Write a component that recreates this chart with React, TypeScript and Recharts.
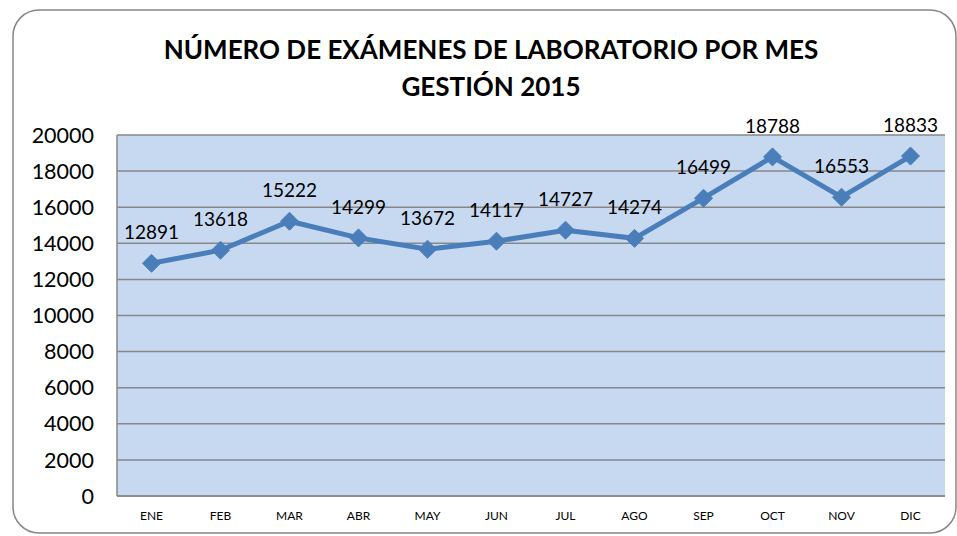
import { LineChart, Line, XAxis, YAxis, CartesianGrid, LabelList } from "recharts"

const months = ["ENE", "FEB", "MAR", "ABR", "MAY", "JUN", "JUL", "AGO", "SEP", "OCT", "NOV", "DIC"]
const examenes = [12891, 13618, 15222, 14299, 13672, 14117, 14727, 14274, 16499, 18788, 16553, 18833]
const yTicks = [0, 2000, 4000, 6000, 8000, 10000, 12000, 14000, 16000, 18000, 20000]

const data = months.map((m, i) => ({ mes: m, valor: examenes[i] }))

const font = "Lato, Carlito, Calibri, sans-serif"

// diamond marker like the Excel one
const Diamond = (props: any) => {
  const { cx, cy } = props
  if (cx == null || cy == null) return null
  const r = 9
  return (
    <polygon
      points={`${cx},${cy - r} ${cx + r},${cy} ${cx},${cy + r} ${cx - r},${cy}`}
      fill="#4A7EBB"
      stroke="#4A7EBB"
    />
  )
}

export default function App() {
  return (
    <div style={{ position: "absolute", left: 0, top: 0, width: 957, height: 536, background: "white", fontFamily: font }}>
      <svg width={957} height={536} style={{ position: "absolute", left: 0, top: 0 }}>
        <rect x={13} y={10} width={943} height={523} rx={26} ry={26} fill="white" stroke="#878787" strokeWidth={1.5} />
        <text x={491} y={59} textAnchor="middle" fontFamily={font} fontWeight="bold" fontSize={26} fill="#000">
          NÚMERO DE EXÁMENES DE LABORATORIO POR MES
        </text>
        <text x={491} y={96} textAnchor="middle" fontFamily={font} fontWeight="bold" fontSize={26} fill="#000">
          GESTIÓN 2015
        </text>
      </svg>
      <div style={{ position: "absolute", left: 0, top: 0 }}>
        <LineChart width={957} height={536} data={data} margin={{ top: 135, right: 12, bottom: 10, left: 0 }}>
          <CartesianGrid vertical={false} fill="#C6D9F1" stroke="#878787" strokeWidth={1.5} />
          <XAxis
            dataKey="mes"
            height={30}
            padding={{ left: 34.5, right: 34.5 }}
            tickLine={false}
            tickSize={0}
            tickMargin={15}
            axisLine={{ stroke: "#878787", strokeWidth: 1.5 }}
            tick={{ fontSize: 12, fill: "#000", fontFamily: font }}
            interval={0}
          />
          <YAxis
            width={117}
            domain={[0, 20000]}
            ticks={yTicks}
            tickLine={false}
            tickSize={0}
            tickMargin={23}
            axisLine={{ stroke: "#878787", strokeWidth: 1.5 }}
            tick={{ fontSize: 21.5, fill: "#000", fontFamily: font }}
            interval={0}
          />
          <Line
            type="linear"
            dataKey="valor"
            stroke="#4A7EBB"
            strokeWidth={5}
            dot={<Diamond />}
            activeDot={false}
            isAnimationActive={false}
          >
            <LabelList dataKey="valor" position="top" offset={24} fontSize={19} fill="#000" fontFamily={font} />
          </Line>
        </LineChart>
      </div>
    </div>
  )
}
